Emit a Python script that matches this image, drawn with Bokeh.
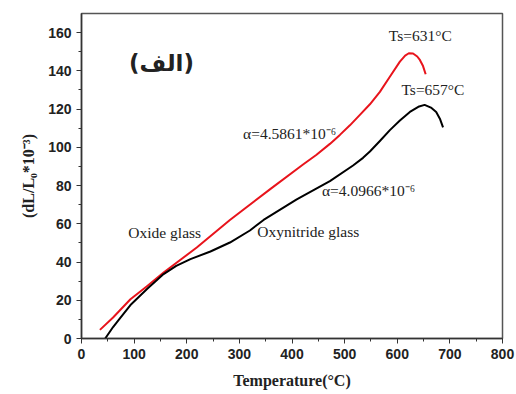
from bokeh.plotting import figure
from bokeh.models import Range1d, FixedTicker, Label
from bokeh.embed import file_html
from bokeh.resources import INLINE

# Oxide glass (red)
oxide_t = [35, 60, 93, 125, 156, 219, 282, 358, 421, 446, 472, 491, 510, 529, 548, 567, 585, 605, 615, 622, 630, 638, 643, 649, 654]
oxide_dl = [4.5, 11, 20.5, 27.5, 34.5, 47.6, 62, 78, 91, 96, 101.8, 106.5, 111.5, 117, 122.5, 129, 136.5, 144.8, 148, 149.2, 149.1, 147.5, 145.7, 142.5, 138.2]

# Oxynitride glass (black)
oxyn_t = [45, 60, 70, 93, 125, 156, 180, 207, 245, 282, 320, 346, 409, 472, 516, 535, 548, 567, 586, 605, 624, 640, 652, 664, 674, 681, 687]
oxyn_dl = [0, 6, 9.5, 17.5, 26, 33.7, 38, 41.5, 45.5, 50.2, 56.5, 62, 72.8, 82.3, 90.5, 94.5, 97.8, 103.3, 109, 114, 118.5, 121.2, 122.2, 120.8, 118.5, 115, 110.4]

x_ticks = [0, 100, 200, 300, 400, 500, 600, 700, 800]
y_ticks = [0, 20, 40, 60, 80, 100, 120, 140, 160]

p = figure(width=516, height=394, output_backend="svg", toolbar_location=None,
           x_range=Range1d(0, 800), y_range=Range1d(0, 170),
           min_border_left=81, min_border_right=14, min_border_top=13, min_border_bottom=56)
p.background_fill_color = "white"
p.border_fill_color = "white"
p.outline_line_color = "#555555"
p.outline_line_width = 1.5
p.grid.visible = False

p.line(oxide_t, oxide_dl, line_color="#e8141c", line_width=2, line_join="round")
p.line(oxyn_t, oxyn_dl, line_color="black", line_width=2, line_join="round")

for ax, ticks in ((p.xaxis[0], x_ticks), (p.yaxis[0], y_ticks)):
    ax.ticker = FixedTicker(ticks=ticks, minor_ticks=[t + (ticks[1]-ticks[0]) / 2 for t in ticks[:-1]])
    ax.major_tick_out = 5
    ax.major_tick_in = 0
    ax.minor_tick_out = 3
    ax.minor_tick_in = 0
    ax.axis_line_color = "#333333"
    ax.axis_line_width = 1.5
    ax.major_tick_line_color = "#333333"
    ax.minor_tick_line_color = "#333333"
    ax.major_label_text_font = "Liberation Sans"
    ax.major_label_text_font_style = "bold"
    ax.major_label_text_font_size = "14px"
    ax.major_label_text_color = "#222222"
    ax.axis_label_text_font = "Liberation Serif"
    ax.axis_label_text_font_style = "bold"
    ax.axis_label_text_font_size = "16px"
    ax.axis_label_text_color = "#222222"

p.xaxis[0].axis_label = "Temperature(°C)"
p.xaxis[0].axis_label_standoff = 10
p.yaxis[0].axis_label = "(dL/L₀*10⁻³)"
p.yaxis[0].axis_label_standoff = 8

def lab(x, y, t, size="15.5px", font="Liberation Serif", style="normal", align="left"):
    p.add_layout(Label(x=x, y=y, text=t, text_font=font, text_font_size=size,
                       text_font_style=style, text_color="#222222",
                       text_baseline="middle", text_align=align))

lab(152, 144, "(الف)", size="23px", font="DejaVu Sans", style="bold", align="center")
lab(584, 158.6, "Ts=631°C")
lab(608, 130.5, "Ts=657°C")
lab(307, 107.4, "α=4.5861*10⁻⁶")
lab(457, 77.3, "α=4.0966*10⁻⁶")
lab(89, 55.5, "Oxide glass")
lab(334, 55.8, "Oxynitride glass")

open("out.html", "w").write(file_html(p, INLINE))
